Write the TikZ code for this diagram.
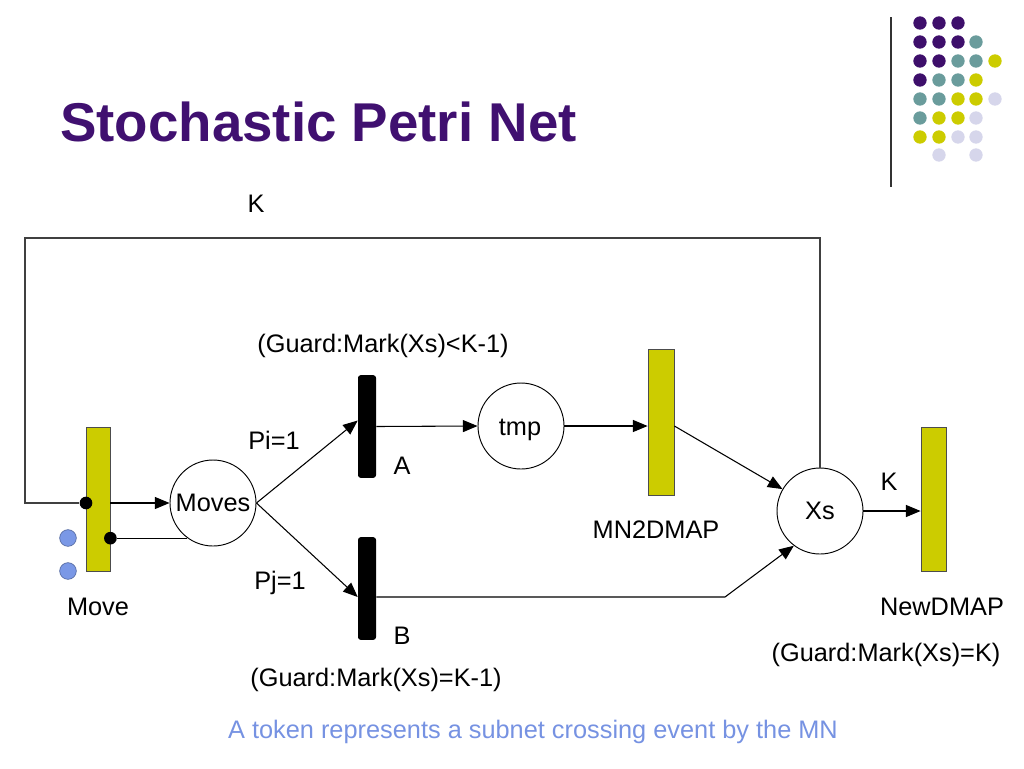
\documentclass[tikz,border=0pt]{standalone}
\usepackage{fontspec}
\setmainfont{Liberation Sans}
\usetikzlibrary{arrows.meta,calc}
\definecolor{ttl}{RGB}{64,16,112}
\definecolor{dpur}{RGB}{62,15,107}
\definecolor{dteal}{RGB}{106,156,156}
\definecolor{dyel}{RGB}{204,204,0}
\definecolor{dlav}{RGB}{214,214,235}
\definecolor{tok}{RGB}{122,152,230}
\definecolor{note}{RGB}{118,146,226}
\tikzset{
  lbl/.style={font=\fontsize{19}{23}\selectfont, inner sep=0pt},
  yeltrans/.style={draw=black!70, fill=dyel, line width=0.6pt, minimum width=18pt, minimum height=108pt, inner sep=0pt},
  blktrans/.style={fill=black, rounded corners=2pt, minimum width=13.5pt, minimum height=77pt, inner sep=0pt},
  place/.style={circle, draw, line width=0.7pt, minimum size=64.5pt, inner sep=0pt, font=\fontsize{19}{23}\selectfont},
  arr/.style={line width=0.8pt, -{Triangle[length=11pt,width=9pt]}},
  ln/.style={line width=0.8pt},
  fb/.style={line width=0.8pt, draw=black!75},
  dotn/.style={circle, fill=black, minimum size=9.5pt, inner sep=0pt},
  tokn/.style={circle, fill=tok, draw=tok!70!black, line width=0.5pt, minimum size=12.5pt, inner sep=0pt},
  deco/.style={circle, minimum size=10pt, inner sep=0pt}
}
\begin{document}
\begin{tikzpicture}[x=0.75pt,y=-0.75pt]
\useasboundingbox (0,0) rectangle (1024,768);
% title
\node[anchor=west, inner sep=0pt, text=ttl, font=\fontsize{41}{48}\selectfont\bfseries] (title) at (60,122) {Stochastic Petri Net};
% decoration
\draw[line width=1pt, draw=black!80] (891,17) -- (891,187);
\foreach \c/\x/\y in {dpur/920/23,dpur/939/23,dpur/958/23,
  dpur/920/42,dpur/939/42,dpur/958/42,dteal/976/42,
  dpur/920/61,dpur/939/61,dteal/958/61,dteal/976/61,dyel/995/61,
  dpur/920/80,dteal/939/80,dteal/958/80,dyel/976/80,
  dteal/920/99,dteal/939/99,dyel/958/99,dyel/976/99,dlav/995/99,
  dteal/920/118,dyel/939/118,dyel/958/118,dlav/976/118,
  dyel/920/137,dyel/939/137,dlav/958/137,dlav/976/137,
  dlav/939/155,dlav/976/155}
  \node[deco, fill=\c] at (\x,\y) {};
% nodes
\node[yeltrans] (Move) at (98,499) {};
\node[place] (Moves) at (213,503) {Moves};
\node[blktrans] (A) at (367,426.5) {};
\node[blktrans] (B) at (367,588.5) {};
\node[place] (tmp) at (521,426) {};
\node[lbl] (tmpl) at (520,430) {tmp};
\node[yeltrans, minimum width=19.5pt, minimum height=109.5pt] (MN) at (661,422) {};
\node[place] (Xs) at (820,511) {Xs};
\node[yeltrans, minimum width=18.75pt] (New) at (933.5,499) {};
% tokens
\node[tokn] (t1) at (68,538) {};
\node[tokn] (t2) at (68,571) {};
% dots
\node[dotn] (d1) at (86,503) {};
\node[dotn] (d2) at (Move.east |- Moves.234) {};
% coordinates
\coordinate (c1) at (820,238);
\coordinate (c2) at (25,238);
\coordinate (c3) at (25,503);
\coordinate (bk) at (725,597);
% connectors
\draw[fb] (Xs.north) -- (c1) -- (c2) -- (c3) -- (d1);
\draw[arr] (Move.east |- Moves.west) -- (Moves.west);
\draw[ln] (Moves.234) -- (d2);
\draw[arr] (Moves.east) -- ([yshift=4.5pt]A.west);
\draw[arr] (Moves.east) -- ([yshift=-6.4pt]B.west);
\draw[arr] (A.east) -- (tmp.west);
\draw[arr] (tmp.east) -- (tmp.east -| MN.west);
\draw[arr] (MN.east |- tmp.east) -- (Xs);
\draw[arr] (B.east |- bk) -- (bk) -- (Xs.233);
\draw[arr] (Xs.east) -- (Xs.east -| New.west);
% labels
\node[lbl] (lK1) at (256,204) {K};
\node[lbl] (lg1) at (383,346) {(Guard:Mark(Xs)<K-1)};
\node[lbl] (lpi) at (274,440) {Pi=1};
\node[lbl] (lpj) at (280,583) {Pj=1};
\node[lbl] (lA) at (402,466) {A};
\node[lbl] (lB) at (402,636) {B};
\node[lbl] (lg2) at (376,680) {(Guard:Mark(Xs)=K-1)};
\node[lbl] (lmove) at (98,607) {Move};
\node[lbl] (lmn) at (656,530) {MN2DMAP};
\node[lbl] (lK2) at (889,482) {K};
\node[lbl] (lnew) at (942,607) {NewDMAP};
\node[lbl] (lg3) at (886,655) {(Guard:Mark(Xs)=K)};
\node[lbl, text=note] (lnote) at (533,732) {A token represents a subnet crossing event by the MN};
\end{tikzpicture}
\end{document}
